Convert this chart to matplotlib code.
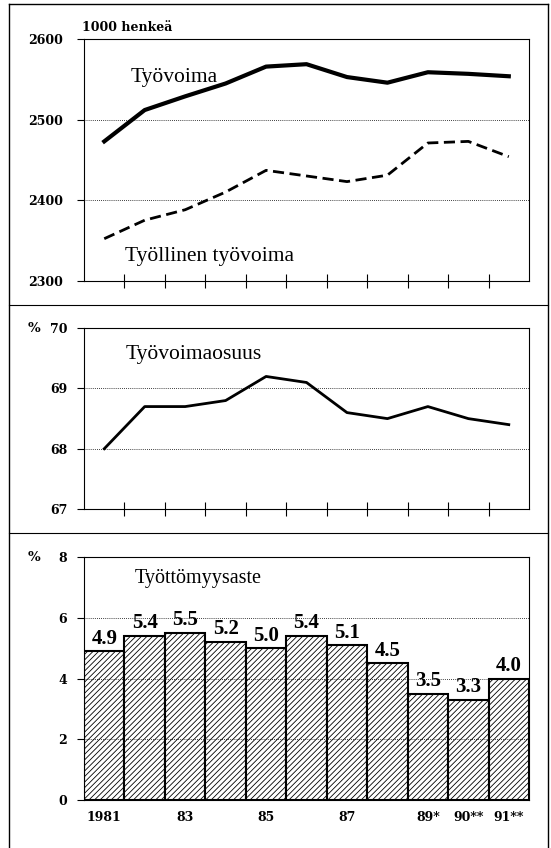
import numpy as np
import matplotlib
matplotlib.use("Agg")
import matplotlib.pyplot as plt
from matplotlib.lines import Line2D

# data (1981-1991)
years = ["1981", "1982", "1983", "1984", "1985", "1986",
         "1987", "1988", "1989", "1990", "1991"]
tyovoima = [2473, 2512, 2529, 2545, 2566, 2569, 2553, 2546, 2559, 2557, 2554]
tyollinen = [2352, 2375, 2388, 2410, 2437, 2430, 2423, 2431, 2471, 2473, 2454]
osuus = [68.0, 68.7, 68.7, 68.8, 69.2, 69.1, 68.6, 68.5, 68.7, 68.5, 68.4]
tyottomyys = [4.9, 5.4, 5.5, 5.2, 5.0, 5.4, 5.1, 4.5, 3.5, 3.3, 4.0]
x_labels = ["1981", "", "83", "", "85", "", "87", "", "89*", "90**", "91**"]

plt.rcParams["font.family"] = "DejaVu Serif"
plt.rcParams["font.weight"] = "bold"
plt.rcParams["font.size"] = 9
plt.rcParams["hatch.linewidth"] = 0.6

title_font = dict(family="Liberation Serif", weight="normal")

x = np.arange(len(years))

fig = plt.figure(figsize=(5.51, 8.48), dpi=100)
ax1 = fig.add_axes([0.1525, 0.6692, 0.8076, 0.2845])
ax2 = fig.add_axes([0.1525, 0.3998, 0.8076, 0.2131])
ax3 = fig.add_axes([0.1525, 0.0566, 0.8076, 0.2862])


def setup(ax, ylim, yticks, pad):
    ax.set_xlim(-0.5, len(years) - 0.5)
    ax.set_ylim(*ylim)
    ax.set_yticks(yticks)
    ax.tick_params(axis="y", direction="out", length=5, width=0.8, pad=pad)
    for s in ax.spines.values():
        s.set_linewidth(0.8)
    ax.grid(axis="y", linestyle=(0, (1, 1.5)), color="black", linewidth=0.6)
    ax.set_axisbelow(False)


# --- top panel: labour force ---
setup(ax1, (2300, 2600), [2300, 2400, 2500, 2600], 9.8)
ax1.plot(x, tyovoima, color="black", linewidth=3.0, zorder=3)
ax1.plot(x, tyollinen, color="black", linewidth=2.0, dashes=(4, 2), zorder=3)
ax1.set_xticks(np.arange(0.5, len(years) - 1, 1.0))
ax1.set_xticklabels([])
ax1.tick_params(axis="x", direction="inout", length=10, width=0.8)
ax1.text(0.202, 0.823, "Työvoima", transform=ax1.transAxes, ha="center",
         va="baseline", fontsize=15.5, **title_font)
ax1.text(0.283, 0.081, "Työllinen työvoima", transform=ax1.transAxes,
         ha="center", va="baseline", fontsize=15.5, **title_font)
fig.text(0.148, 0.968, "1000 henkeä", ha="left", va="center", fontsize=9)

# --- middle panel: participation rate ---
setup(ax2, (67, 70), [67, 68, 69, 70], 7.0)
ax2.plot(x, osuus, color="black", linewidth=2.0, zorder=3)
ax2.set_xticks(np.arange(0.5, len(years) - 1, 1.0))
ax2.set_xticklabels([])
ax2.tick_params(axis="x", direction="inout", length=10, width=0.8)
ax2.text(0.247, 0.828, "Työvoimaosuus", transform=ax2.transAxes,
         ha="center", va="baseline", fontsize=15.5, **title_font)
fig.text(0.061, 0.6132, "%", ha="center", va="center", fontsize=9.5)

# --- bottom panel: unemployment rate ---
setup(ax3, (0, 8), [0, 2, 4, 6, 8], 7.0)
bars = ax3.bar(x, tyottomyys, width=1.0, color="white", edgecolor="black",
               linewidth=1.5, hatch="//////", zorder=1)
for xi, v in zip(x, tyottomyys):
    ax3.annotate("{:.1f}".format(v), (xi, v), xytext=(0, 2),
                 textcoords="offset points", ha="center", va="bottom",
                 fontsize=15, family="Liberation Serif", weight="bold")
ax3.set_xticks(x)
ax3.set_xticklabels(x_labels)
ax3.tick_params(axis="x", length=0, pad=7.7)
ax3.text(0.256, 0.893, "Työttömyysaste", transform=ax3.transAxes,
         ha="center", va="baseline", fontsize=14.5, **title_font)
fig.text(0.0626, 0.342, "%", ha="center", va="center", fontsize=9.5)

# outer frame and panel separators
x0, x1 = 0.0163, 0.9946
fig.add_artist(Line2D([x0, x0], [0.0, 0.9953], color="black", linewidth=1.0))
fig.add_artist(Line2D([x1, x1], [0.0, 0.9953], color="black", linewidth=1.0))
fig.add_artist(Line2D([x0, x1], [0.9953, 0.9953], color="black", linewidth=1.0))
fig.add_artist(Line2D([x0, x1], [0.6403, 0.6403], color="black", linewidth=0.8))
fig.add_artist(Line2D([x0, x1], [0.3715, 0.3715], color="black", linewidth=0.8))

fig.savefig("out.png", dpi=100)
